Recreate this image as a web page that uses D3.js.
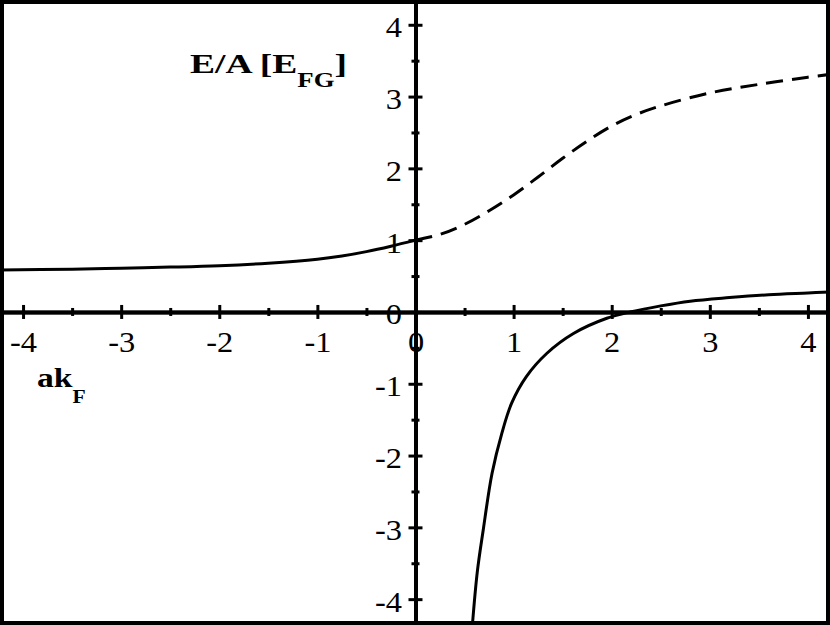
<!DOCTYPE html>
<html>
<head>
<meta charset="utf-8">
<style>
  body { margin: 0; background: #fff; }
  svg { display: block; }
  text { font-family: "Liberation Serif", "Times New Roman", Times, "DejaVu Serif", serif; }
</style>
</head>
<body>
<svg width="830" height="625"></svg>
<script src="https://d3js.org/d3.v7.min.js"></script>
<script>

// tick values
var majorTicks = [-4, -3, -2, -1, 0, 1, 2, 3, 4];
var minorTicks = [-3.5, -2.5, -1.5, -0.5, 0.5, 1.5, 2.5, 3.5];

// branch for a < 0 (solid)
var attrX = [-4.24, -3.5, -3.0, -2.5, -2.0, -1.5, -1.0, -0.75, -0.5, -0.25, 0];
var attrY = [0.585, 0.595, 0.61, 0.625, 0.645, 0.68, 0.735, 0.78, 0.84, 0.915, 1.0];

// repulsive branch for a > 0 (dashed)
var repX = [0, 0.25, 0.5, 0.75, 1.0, 1.25, 1.5, 1.75, 2.0, 2.25, 2.5, 3.0, 3.5, 4.0, 4.23];
var repY = [1.0, 1.08, 1.22, 1.41, 1.63, 1.88, 2.14, 2.38, 2.59, 2.75, 2.87, 3.05, 3.17, 3.27, 3.31];

// molecular branch for a > 0 (solid)
var molX = [0.58, 0.63, 0.69, 0.78, 0.88, 0.98, 1.13, 1.34, 1.61, 1.95, 2.19, 2.5, 2.8, 3.2, 3.6, 4.0, 4.23];
var molY = [-4.36, -3.62, -3.04, -2.25, -1.69, -1.27, -0.90, -0.575, -0.30, -0.088, 0.0, 0.085, 0.15, 0.20, 0.24, 0.265, 0.28];

var svg = d3.select("svg"),
    width = +svg.attr("width"),
    height = +svg.attr("height"),
    stretch = 1.08;   // the type in the original is a bit wider than tall

var x = d3.scaleLinear()
    .domain([-4.235, 4.225])
    .range([0, width]);

var y = d3.scaleLinear()
    .domain([-4.36, 4.345])
    .range([height, 0]);

function pts(xs, ys) {
  return xs.map(function(v, i) { return {x: v, y: ys[i]}; });
}

var line = d3.line()
    .x(function(d) { return x(d.x); })
    .y(function(d) { return y(d.y); })
    .curve(d3.curveCatmullRom.alpha(0.5));

svg.append("defs").append("clipPath")
    .attr("id", "clip")
  .append("rect")
    .attr("width", width)
    .attr("height", height);

var plot = svg.append("g").attr("clip-path", "url(#clip)");

// curves
plot.append("path")
    .datum(pts(attrX, attrY))
    .attr("fill", "none")
    .attr("stroke", "#000")
    .attr("stroke-width", 3)
    .attr("d", line);

plot.append("path")
    .datum(pts(repX, repY))
    .attr("fill", "none")
    .attr("stroke", "#000")
    .attr("stroke-width", 3)
    .style("stroke-dasharray", "17,9")
    .attr("d", line);

plot.append("path")
    .datum(pts(molX, molY))
    .attr("fill", "none")
    .attr("stroke", "#000")
    .attr("stroke-width", 3)
    .attr("d", line);

// plain hyphen for negatives, like the original
var fmt = function(d) { return String(d); };

// x axis: ticks on both sides of the line
var xAt = "translate(0," + y(0) + ")";

svg.append("g").attr("transform", xAt)
    .call(d3.axisTop(x).tickValues(majorTicks).tickSize(7).tickSizeOuter(0).tickFormat(""));
svg.append("g").attr("transform", xAt)
    .call(d3.axisTop(x).tickValues(minorTicks).tickSize(4).tickSizeOuter(0).tickFormat(""));
svg.append("g").attr("transform", xAt)
    .call(d3.axisBottom(x).tickValues(minorTicks).tickSize(4).tickSizeOuter(0).tickFormat(""));
var xAxis = svg.append("g").attr("class", "x-axis").attr("transform", xAt)
    .call(d3.axisBottom(x).tickValues(majorTicks).tickSize(7).tickSizeOuter(0).tickFormat(fmt));

xAxis.selectAll("text")
    .attr("y", 40)
    .attr("dy", 0)
    .attr("transform", "scale(" + stretch + ",1)");

// y axis
var yAt = "translate(" + x(0) + ",0)";

svg.append("g").attr("transform", yAt)
    .call(d3.axisRight(y).tickValues(majorTicks).tickSize(7).tickSizeOuter(0).tickFormat(""));
svg.append("g").attr("transform", yAt)
    .call(d3.axisRight(y).tickValues(minorTicks).tickSize(4).tickSizeOuter(0).tickFormat(""));
svg.append("g").attr("transform", yAt)
    .call(d3.axisLeft(y).tickValues(minorTicks).tickSize(4).tickSizeOuter(0).tickFormat(""));
var yAxis = svg.append("g").attr("class", "y-axis").attr("transform", yAt)
    .call(d3.axisLeft(y).tickValues(majorTicks).tickSize(7).tickSizeOuter(0).tickFormat(fmt));

yAxis.selectAll("text")
    .attr("x", -13.5 / stretch)
    .attr("y", 12)
    .attr("dy", 0)
    .attr("transform", "scale(" + stretch + ",1)");

svg.selectAll(".domain")
    .attr("stroke", "#000")
    .attr("stroke-width", 3.5);

svg.selectAll(".tick line")
    .attr("stroke", "#000")
    .attr("stroke-width", 3);

svg.selectAll(".x-axis, .y-axis")
    .attr("font-family", null);

svg.selectAll(".tick text")
    .attr("fill", "#000")
    .attr("font-size", 30);

// axis titles
function title(px, py, size, subSize, sx, shift, main, sub, tail) {
  var t = svg.append("text")
      .attr("transform", "translate(" + px + "," + py + ") scale(" + sx + ",1)")
      .attr("font-weight", "bold")
      .attr("font-size", size)
      .attr("fill", "#000");
  t.append("tspan").text(main);
  t.append("tspan").attr("font-size", subSize).attr("dy", shift).text(sub);
  if (tail) t.append("tspan").attr("dy", -shift).text(tail);
}

title(190, 73, 28, 20, 1.34, 14, "E/A [E", "FG", "]");
title(37, 387, 28, 18, 1.2, 16, "ak", "F");

// frame
svg.append("rect")
    .attr("x", 2)
    .attr("y", 2)
    .attr("width", width - 4)
    .attr("height", height - 4)
    .attr("fill", "none")
    .attr("stroke", "#000")
    .attr("stroke-width", 4);

</script>
</body>
</html>
